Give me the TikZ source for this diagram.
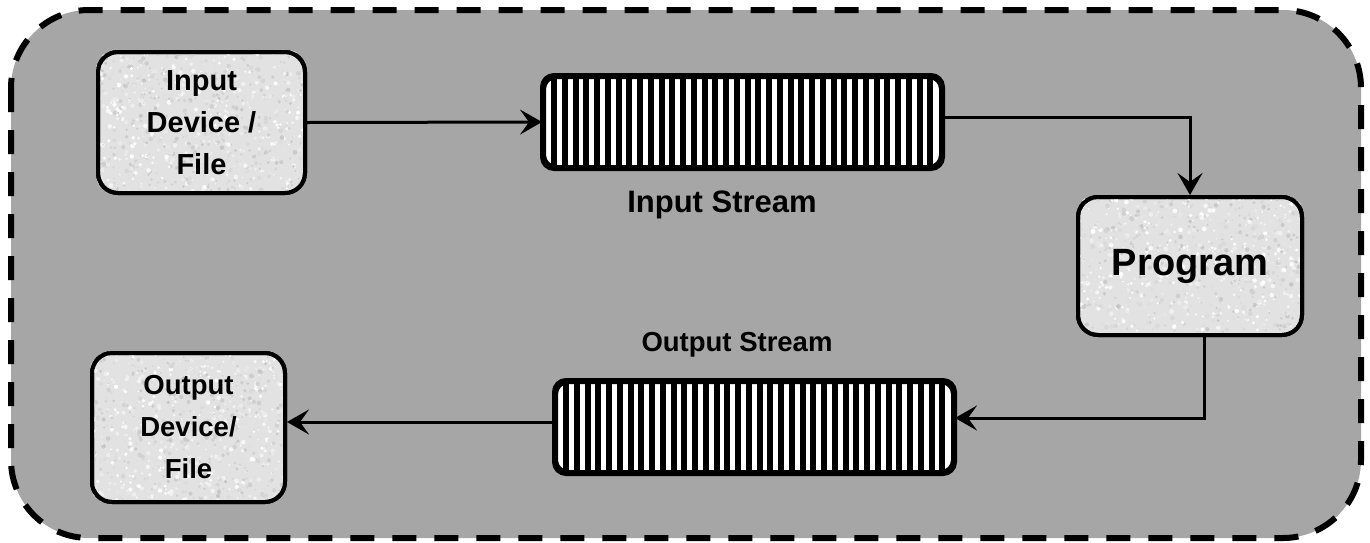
\documentclass[tikz,border=0pt]{standalone}
\usepackage{fontspec}
\setmainfont{Liberation Sans}
\usetikzlibrary{arrows.meta,calc}

\definecolor{panelgray}{HTML}{A6A6A6}
\definecolor{boxfill}{HTML}{E2E2E2}

\tikzset{
  devbox/.style={draw=black, line width=4pt, fill=boxfill, rounded corners=20pt,
                 inner sep=0pt, align=center},
  streambox/.style={draw=black, line width=4pt, fill=white, rounded corners=12pt,
                 inner sep=0pt, minimum width=397pt, minimum height=90pt},
  streamlabel/.style={anchor=base, inner sep=0pt},
  conn/.style={line width=3pt, draw=black},
  arr/.style={conn, -{Stealth[length=22pt, width=25pt, inset=9pt]}},
  infont/.style={font=\bfseries\fontsize{29}{42}\selectfont},
  outfont/.style={font=\bfseries\fontsize{27.5}{42}\selectfont},
  progfont/.style={font=\bfseries\fontsize{38}{44}\selectfont},
}

% vertical black bars across a stream buffer, clipped to its rounded outline
\newcommand\streambars[1]{%
  \begin{scope}
    \clip[rounded corners=12pt] (#1.north west) rectangle (#1.south east);
    \foreach \k in {0,...,35}
      \fill[black] ($(#1.north west)+(\k*10.75+9,0)$) rectangle ++(6.2,90);
  \end{scope}
  \draw[line width=4pt, rounded corners=12pt] (#1.north west) rectangle (#1.south east);
}

% paper-like speckle inside a device box (name, width, height)
\newcommand\speckle[3]{%
  \begin{scope}
    \clip[rounded corners=20pt] (#1.north west) rectangle (#1.south east);
    \foreach \n in {1,...,900}{
      \pgfmathsetmacro\px{#2*rnd}
      \pgfmathsetmacro\py{#3*rnd}
      \pgfmathsetmacro\pg{22*rnd}
      \pgfmathsetmacro\pr{0.8+1.6*rnd}
      \fill[black!\pg] ($(#1.north west)+(\px,\py)$) circle[radius=\pr pt];
    }
  \end{scope}
}

\begin{document}
\begin{tikzpicture}[x=1pt, y=-1pt]
  \pgfmathsetseed{4117}
  \useasboundingbox (0,0) rectangle (1370,542);

  % dashed panel holding the whole I/O chain
  \draw[line width=6pt, dash pattern=on 24pt off 18pt, fill=panelgray,
        rounded corners=78pt] (11,10) rectangle (1361,538);

  % devices and the program
  \node[devbox, infont, minimum width=207pt, minimum height=141pt] (ibox) at (201.5,122.5) {};
  \node[devbox, progfont, minimum width=224pt, minimum height=138pt] (prog) at (1190,266) {};
  \node[devbox, outfont, minimum width=193pt, minimum height=149pt] (obox) at (188.5,427.5) {};

  \speckle{ibox}{207}{141}
  \speckle{prog}{224}{138}
  \speckle{obox}{193}{149}

  % outlines and texts on top of the speckle
  \node[devbox, infont, fill=none, minimum width=207pt, minimum height=141pt] (itext) at (ibox)
       {Input\\ Device /\\ File};
  \node[devbox, progfont, fill=none, minimum width=224pt, minimum height=138pt] (ptext) at (prog)
       {Program};
  \node[devbox, outfont, fill=none, minimum width=193pt, minimum height=149pt] (otext) at (obox)
       {Output\\ Device/\\ File};

  % stream buffers
  \node[streambox] (istream) at (742.5,122) {};
  \node[streambox] (ostream) at (754.5,427) {};
  \streambars{istream}
  \streambars{ostream}

  \node[streamlabel, font=\bfseries\fontsize{31}{36}\selectfont] (ilabel) at (722,212) {Input Stream};
  \node[streamlabel, font=\bfseries\fontsize{27.5}{34}\selectfont] (olabel) at (737,351) {Output Stream};

  % data flow
  \draw[arr] (ibox.east) -- (istream.west);
  \draw[arr] ([yshift=5pt]istream.east) -| (prog.north);
  \coordinate (pout) at ($(prog.south)+(14,0)$);
  \draw[arr] (pout) |- ([yshift=9pt]ostream.east);
  \draw[arr] ([yshift=5pt]ostream.west) -- ([yshift=5pt]ostream.west -| obox.east);
\end{tikzpicture}
\end{document}
